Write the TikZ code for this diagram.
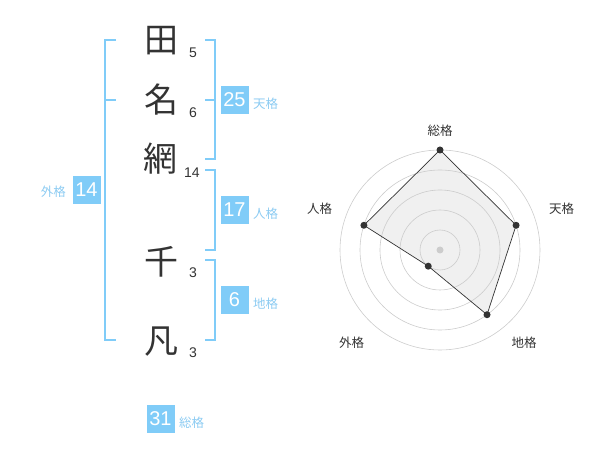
\documentclass[tikz,border=0pt]{standalone}
\usepackage{fontspec}
\setmainfont{Liberation Sans}
\newfontfamily\cjk{Noto Sans CJK JP}
\definecolor{sky}{HTML}{80CCF8}
\definecolor{skytext}{HTML}{8CCBF2}
\definecolor{ink}{HTML}{333333}
\definecolor{ring}{HTML}{CCCCCC}
\definecolor{area}{HTML}{F0F0F0}
\begin{document}
\begin{tikzpicture}[x=1pt,y=-1pt,
  kanji/.style={font=\cjk\fontsize{34}{34}\selectfont, text=ink, inner sep=0pt},
  stroke/.style={font=\fontsize{14}{14}\selectfont, text=ink, inner sep=0pt},
  numbox/.style={fill=sky, text=white, minimum width=28pt, minimum height=28pt, inner sep=0pt, font=\fontsize{20}{20}\selectfont},
  kaku/.style={font=\cjk\fontsize{12.5}{12.5}\selectfont, text=skytext, inner sep=0pt},
  bracket/.style={draw=sky, line width=2pt},
  radarlabel/.style={font=\cjk\fontsize{12.5}{12.5}\selectfont, text=ink, inner sep=0pt},
  ringline/.style={draw=ring, line width=0.6pt},
  vdot/.style={circle, fill=ink, minimum size=7pt, inner sep=0pt},
]
\useasboundingbox (0,0) rectangle (600,470);
% kanji
\node[kanji] (k1) at (161,41) {田};
\node[kanji] (k2) at (161,100) {名};
\node[kanji] (k3) at (160,159) {網};
\node[kanji] (k4) at (161,262) {千};
\node[kanji] (k5) at (161,342) {凡};
% stroke counts
\node[stroke] (s1) at (193,53) {5};
\node[stroke] (s2) at (193,112.5) {6};
\node[stroke] (s3) at (192,173) {14};
\node[stroke] (s4) at (193,273) {3};
\node[stroke] (s5) at (193,353) {3};
% brackets
\draw[bracket] (116,40) -- (105,40) -- (105,340) -- (116,340);
\draw[bracket] (105,100) -- (116,100);
\draw[bracket] (205,40) -- (215,40) -- (215,159) -- (205,159);
\draw[bracket] (205,100) -- (215,100);
\draw[bracket] (205,170) -- (215,170) -- (215,250) -- (205,250);
\draw[bracket] (205,260) -- (215,260) -- (215,340) -- (205,340);
% boxes
\node[numbox] (ten) at (234.5,100) {25};
\node[kaku, anchor=west] (tenl) at (253,104) {天格};
\node[numbox] (jin) at (234.5,210) {17};
\node[kaku, anchor=west] (jinl) at (253,214) {人格};
\node[numbox] (chi) at (234.5,300) {6};
\node[kaku, anchor=west] (chil) at (253,304) {地格};
\node[numbox] (gai) at (86.5,190) {14};
\node[kaku, anchor=east] (gail) at (66,192) {外格};
\node[numbox] (sou) at (160.5,419) {31};
\node[kaku, anchor=west] (soul) at (179,423) {総格};
% radar
\begin{scope}[shift={(440,250)}]
  \coordinate (ps) at (-90:100);
  \coordinate (pt) at (-18:80);
  \coordinate (pc) at (54:80);
  \coordinate (pg) at (126:20);
  \coordinate (pj) at (198:80);
  \fill[area] (ps) -- (pt) -- (pc) -- (pg) -- (pj) -- cycle;
  \foreach \r in {20,40,60,80,100} \draw[ringline] (0,0) circle[radius=\r];
  \draw[ink, line width=0.7pt] (ps) -- (pt) -- (pc) -- (pg) -- (pj) -- cycle;
  \node[circle, fill=ring, minimum size=7pt, inner sep=0pt] (ctr) at (0,0) {};
  \node[vdot] (ds) at (ps) {};
  \node[vdot] (dt) at (pt) {};
  \node[vdot] (dc) at (pc) {};
  \node[vdot] (dg) at (pg) {};
  \node[vdot] (dj) at (pj) {};
\end{scope}
\node[radarlabel] (rs) at (440,130.5) {総格};
\node[radarlabel] (rt) at (561.5,208.5) {天格};
\node[radarlabel] (rc) at (524,342.5) {地格};
\node[radarlabel] (rg) at (351.5,342.5) {外格};
\node[radarlabel] (rj) at (319.5,208.5) {人格};
\end{tikzpicture}
\end{document}
